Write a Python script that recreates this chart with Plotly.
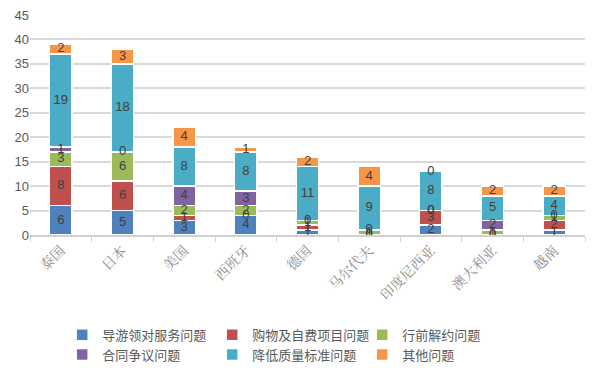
import plotly.graph_objects as go
import numpy as np

countries = ["泰国", "日本", "美国", "西班牙", "德国", "马尔代夫", "印度尼西亚", "澳大利亚", "越南"]
series_names = ["导游领对服务问题", "购物及自费项目问题", "行前解约问题", "合同争议问题", "降低质量标准问题", "其他问题"]
guide = [6, 5, 3, 4, 1, 0, 2, 0, 1]
shopping = [8, 6, 1, 0, 1, 0, 3, 0, 2]
cancel = [3, 6, 2, 2, 1, 1, 0, 1, 1]
contract = [1, 0, 4, 3, 0, 0, 0, 2, 0]
quality = [19, 18, 8, 8, 11, 9, 8, 5, 4]
other = [2, 3, 4, 1, 2, 4, 0, 2, 2]
colors = ["#4F81BD", "#C0504D", "#9BBB59", "#8064A2", "#4BACC6", "#F79646"]
y_ticks = [0, 5, 10, 15, 20, 25, 30, 35, 40, 45]

data = [guide, shopping, cancel, contract, quality, other]

fig = go.Figure()
for name, vals, col in zip(series_names, data, colors):
    fig.add_trace(go.Bar(x=countries, y=vals, name=name, marker=dict(color=col, line=dict(color="white", width=1.5)),
                         hoverinfo="y+name"))

base = np.zeros(len(countries))
for vals in data:
    v = np.array(vals, dtype=float)
    mid = base + v / 2
    fig.add_trace(go.Scatter(x=countries, y=mid, mode="text", text=[str(x) for x in vals],
                             textfont=dict(size=13, color="#404040", family="Liberation Sans, Arial"),
                             showlegend=False, hoverinfo="skip"))
    base = base + v

fig.update_layout(
    barmode="stack",
    bargap=0.64,
    width=600, height=380,
    margin=dict(l=30, r=15, t=15, b=145, autoexpand=False),
    plot_bgcolor="white", paper_bgcolor="white",
    font=dict(family="Noto Sans CJK SC", color="#595959"),
    legend=dict(orientation="h", traceorder="normal", x=0.058, xanchor="left", y=-0.385, yanchor="top",
                font=dict(size=13, color="#595959", family="Noto Sans CJK SC"),
                entrywidth=105, itemwidth=30, tracegroupgap=0),
    showlegend=True,
)
fig.update_yaxes(range=[0, 45], tickvals=y_ticks, showgrid=True, gridcolor="#d9d9d9", gridwidth=1.5,
                 zeroline=False, showline=False, automargin=False,
                 tickfont=dict(size=13, color="#595959", family="Liberation Sans, Arial"))
fig.update_xaxes(tickangle=-45, showline=True, linecolor="#d0d0d0", linewidth=1.5, ticks="outside",
                 tickson="boundaries", ticklen=5, tickcolor="#d0d0d0", automargin=False,
                 tickfont=dict(size=14, color="#8c8c8c", family="Noto Serif CJK SC, Noto Sans CJK SC"))

fig.write_html("out.html", config={"displayModeBar": False},
               post_script="document.body.style.margin='0';document.body.style.overflow='hidden';")
